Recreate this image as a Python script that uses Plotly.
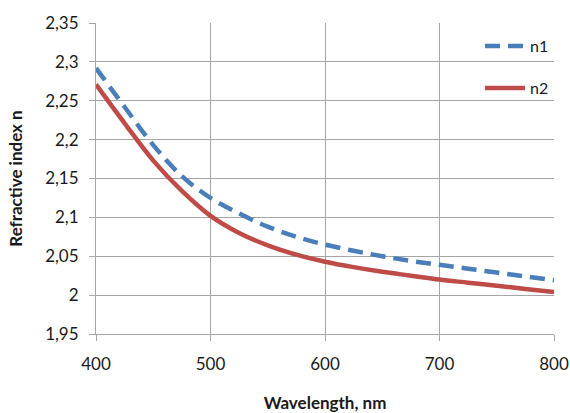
import plotly.graph_objects as go

wavelength = [400, 425, 450, 475, 500, 525, 550, 575, 600, 625, 650, 675, 700, 725, 750, 775, 800]
n1 = [2.292, 2.242, 2.193, 2.153, 2.125, 2.105, 2.088, 2.075, 2.065, 2.057, 2.050, 2.044, 2.039, 2.034, 2.029, 2.024, 2.019]
n2 = [2.271, 2.221, 2.173, 2.134, 2.102, 2.080, 2.064, 2.052, 2.043, 2.036, 2.030, 2.025, 2.020, 2.016, 2.012, 2.008, 2.004]

y_ticks = [1.95, 2.0, 2.05, 2.1, 2.15, 2.2, 2.25, 2.3, 2.35]
y_tick_labels = ["1,95", "2", "2,05", "2,1", "2,15", "2,2", "2,25", "2,3", "2,35"]
x_ticks = [400, 500, 600, 700, 800]
x_tick_labels = ["400", "500", "600", "700", "800"]

FONT = "Lato, 'Open Sans', sans-serif"
GRID = "#a6a6a6"
TXT = "#1a1a1a"

fig = go.Figure()
fig.add_trace(go.Scatter(x=wavelength, y=n1, name="n1", mode="lines",
                         line=dict(color="#4a7ebb", width=4.5, dash="15px,8px", shape="spline"),
                         legend="legend"))
fig.add_trace(go.Scatter(x=wavelength, y=n2, name="n2", mode="lines",
                         line=dict(color="#be4b48", width=4.5, shape="spline"),
                         legend="legend2"))

legend_common = dict(bgcolor="rgba(0,0,0,0)", font=dict(family=FONT, size=16, color=TXT),
                     xanchor="right", yanchor="middle", x=1.0, itemwidth=40, visible=True)

fig.update_layout(
    width=570, height=413,
    margin=dict(l=96, r=16, t=23, b=79),
    paper_bgcolor="white", plot_bgcolor="white",
    showlegend=True,
    font=dict(family=FONT, size=17, color=TXT),
    legend=dict(y=0.926, **legend_common),
    legend2=dict(y=0.791, **legend_common),
    xaxis=dict(range=[400, 800], tickvals=x_ticks, ticktext=x_tick_labels,
               showgrid=True, gridcolor=GRID, gridwidth=1,
               showline=True, linecolor=GRID, linewidth=1,
               ticks="outside", ticklen=6, tickcolor=GRID, ticklabelstandoff=9,
               tickfont=dict(family=FONT, size=17, color=TXT),
               title=dict(text="<b>Wavelength, nm</b>", font=dict(family=FONT, size=17, color=TXT), standoff=32),
               automargin=False, zeroline=False),
    yaxis=dict(range=[1.95, 2.35], tickvals=y_ticks, ticktext=y_tick_labels,
               showgrid=True, gridcolor=GRID, gridwidth=1,
               showline=True, linecolor=GRID, linewidth=1,
               ticks="outside", ticklen=6, tickcolor=GRID, ticklabelstandoff=7,
               tickfont=dict(family=FONT, size=17, color=TXT),
               title=dict(text="<b>Refractive index n</b>", font=dict(family=FONT, size=17, color=TXT), standoff=18),
               automargin=False, zeroline=False),
)

fig.write_html("out.html", config={"displayModeBar": False},
               post_script="document.body.style.margin='0';")
